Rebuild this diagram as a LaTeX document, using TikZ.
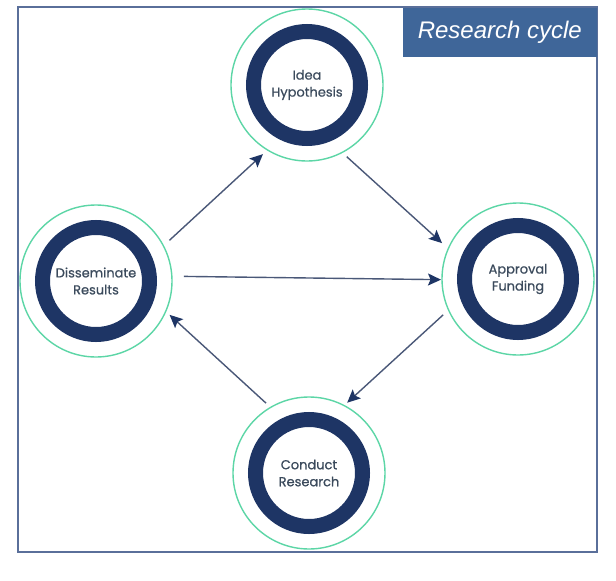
\documentclass[tikz,border=0pt]{standalone}
\usepackage{fontspec}
\setmainfont{Poppins}[FakeBold=0.6]
\newfontfamily\titlefont{Liberation Sans}
\usetikzlibrary{arrows.meta}
\definecolor{frameblue}{HTML}{5A6F9A}
\definecolor{titleblue}{HTML}{3F6699}
\definecolor{ringnavy}{HTML}{1E3565}
\definecolor{mint}{HTML}{5CD6A6}
\definecolor{arrowcol}{HTML}{4A5878}
\definecolor{txtcol}{HTML}{3B4A5C}
\tikzset{
  stage/.style={circle, draw=mint, line width=1.4pt, minimum size=152pt, inner sep=0pt,
     align=center, font=\fontsize{13}{17}\selectfont, text=txtcol},
  ring/.style={draw=ringnavy, line width=15pt},
  arr/.style={draw=arrowcol, line width=1.4pt, -{Stealth[length=13pt,width=12pt,inset=2.5pt,color=ringnavy]}},
}
\begin{document}
\begin{tikzpicture}[x=1pt,y=-1pt]
\useasboundingbox (0,0) rectangle (616,581);
\fill[white] (0,0) rectangle (616,581);
\draw[frameblue, line width=2pt] (18,7) rectangle (597,552);
\node[fill=titleblue, minimum width=194pt, minimum height=49pt, inner sep=0pt, anchor=north east,
      text=white, font=\titlefont\itshape\fontsize{24}{27}\selectfont] (title) at (597,8) {Research cycle};

\node[stage] (T) at (307,85) {Idea\\Hypothesis};
\node[stage] (R) at (518,279) {Approval\\Funding};
\node[stage] (B) at (309,473) {Conduct\\Research};
\node[stage] (L) at (96,281) {Disseminate\\Results};

\foreach \n in {T,R,B,L} \draw[ring] (\n.center) circle[radius=53.5pt];

\draw[arr] ([shift={(-29:84)}]L.center) -- ([shift={(-237.5:82)}]T.center);
\draw[arr] ([shift={(61:82)}]T.center) -- ([shift={(-154.7:84)}]R.center);
\draw[arr] ([shift={(-3:88)}]L.center) -- ([shift={(-180.5:77)}]R.center);
\draw[arr] ([shift={(-205.6:83)}]R.center) -- ([shift={(-61.5:80)}]B.center);
\draw[arr] ([shift={(-121.6:82)}]B.center) -- ([shift={(24.7:81)}]L.center);
\end{tikzpicture}
\end{document}
